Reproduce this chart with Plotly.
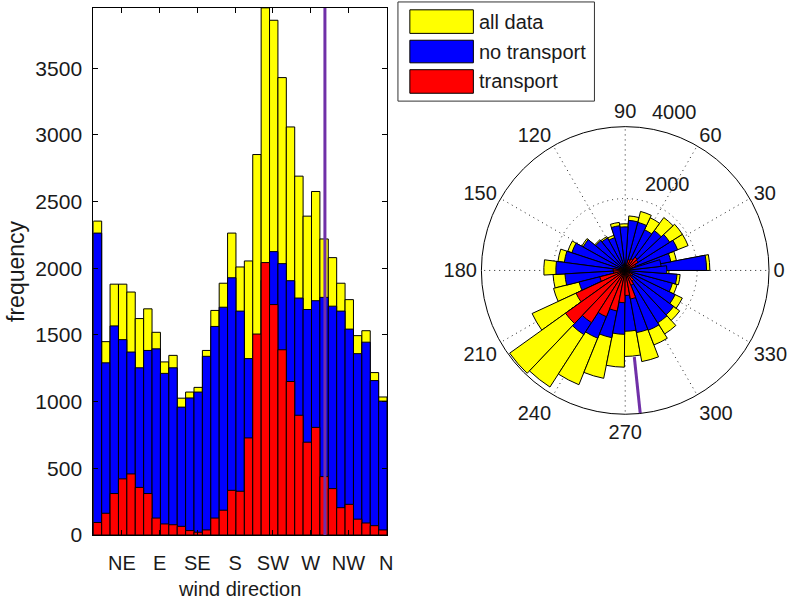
import math
import plotly.graph_objects as go

# ---------------- data ----------------
# histogram bin centres (degrees, 10-degree bins as drawn on the bar chart)
dir_centers = [5, 15, 25, 35, 45, 55, 65, 75, 85, 95, 105, 115, 125, 135, 145, 155, 165, 175,
               185, 195, 205, 215, 225, 235, 245, 255, 265, 275, 285, 295, 305, 315, 325, 335, 345]
all_data = [2354, 1450, 1881, 1881, 1822, 1623, 1696, 1520, 1298, 1347, 1026, 1072, 1107, 1384, 1684, 1888,
            2264, 2010, 2055, 2853, 3953, 3860, 3430, 3060, 2691, 2391, 2576, 2220, 2080, 1888, 1765, 1495,
            1532, 1218, 1035]
no_transport = [2264, 1291, 1568, 1465, 1372, 1254, 1384, 1396, 1212, 1254, 959, 1028, 1072, 1340, 1564, 1708,
                1929, 1679, 1323, 1346, 1910, 2125, 2035, 1907, 1777, 1691, 1757, 1782, 1716, 1679, 1544, 1360,
                1446, 1158, 1004]
transport = [94, 163, 311, 421, 458, 357, 311, 127, 83, 77, 65, 33, 21, 38, 127, 186,
             335, 328, 728, 1507, 2043, 1728, 1389, 1151, 898, 696, 807, 438, 348, 205, 230, 119,
             90, 70, 38]
tick_labels = ["NE", "E", "SE", "S", "SW", "W", "NW", "N"]
tick_positions = [34, 79, 124, 169, 214, 259, 304, 349]
marker_direction = 276
series_names = ["all data", "no transport", "transport"]
series_colors = ["#FFFF00", "#0000FF", "#FF0000"]
ymax = 3953
rmax = 4000
radial_ticks = [2000, 4000]
polar_ticks = [0, 30, 60, 90, 120, 150, 180, 210, 240, 270, 300, 330]

# styling / geometry
polar_bin_width = 10.78          # angular width of each rose wedge as drawn in the polar panel
polar_theta = [(i + 0.5) * polar_bin_width for i in range(len(all_data))]

W, H = 789, 600
FONT = "Liberation Sans, Arial, sans-serif"
TXT = "#1a1a1a"
PURPLE = "#7030A8"


def px(x):
    return x / W


def py(y):
    return 1 - y / H


fig = go.Figure()

series = [all_data, no_transport, transport]
for name, vals, col in zip(series_names, series, series_colors):
    fig.add_trace(go.Bar(x=dir_centers, y=vals, width=10, name=name,
                         marker=dict(color=col, line=dict(color="black", width=1)),
                         showlegend=False, xaxis="x", yaxis="y"))

fig.add_trace(go.Scatter(x=[marker_direction, marker_direction], y=[0, ymax], mode="lines",
                         line=dict(color=PURPLE, width=3), showlegend=False, hoverinfo="skip"))

# polar rose
for name, vals, col in zip(series_names, series, series_colors):
    fig.add_trace(go.Barpolar(r=vals, theta=polar_theta, width=polar_bin_width, name=name,
                              marker=dict(color=col, line=dict(color="black", width=1)),
                              showlegend=False, subplot="polar"))
fig.add_trace(go.Scatterpolar(r=[2420, rmax], theta=[marker_direction, marker_direction], mode="lines",
                              line=dict(color=PURPLE, width=3), showlegend=False, subplot="polar"))

cx, cy, R = 630, 275.5, 146.5
DOT = "1px,4px"

fig.update_layout(
    width=W, height=H,
    margin=dict(l=0, r=0, t=0, b=0),
    paper_bgcolor="white", plot_bgcolor="white",
    font=dict(family=FONT, size=20, color=TXT),
    barmode="overlay",
    xaxis=dict(domain=[px(94), px(390)], range=[0, 350], tickvals=tick_positions, ticktext=tick_labels,
               ticks="inside", ticklen=5, tickcolor="black", showline=True, linecolor="black",
               linewidth=1, mirror="allticks", showgrid=False, zeroline=False,
               ticklabelstandoff=10,
               title=dict(text="wind direction", standoff=8, font=dict(size=20))),
    yaxis=dict(domain=[py(545), py(8)], range=[0, ymax], tickvals=[0, 500, 1000, 1500, 2000, 2500, 3000, 3500],
               ticks="inside", ticklen=5, tickcolor="black", showline=True, linecolor="black",
               linewidth=1, mirror="allticks", showgrid=False, zeroline=False,
               ticklabelstandoff=6, tickfont=dict(size=21),
               title=dict(text="frequency", standoff=4, font=dict(size=23))),
    polar=dict(
        domain=dict(x=[px(cx - R), px(cx + R)], y=[py(cy + R), py(cy - R)]),
        bgcolor="white", barmode="overlay",
        radialaxis=dict(range=[0, rmax], tickvals=radial_ticks, showline=False, ticks="",
                        showticklabels=False,
                        gridcolor="#222", griddash=DOT, gridwidth=1, angle=84.7),
        angularaxis=dict(rotation=0, direction="counterclockwise", tickvals=polar_ticks,
                         ticks="", showline=True, linecolor="black", linewidth=1,
                         gridcolor="#222", griddash=DOT, gridwidth=1, tickfont=dict(size=20)),
    ),
)

# radial tick labels, placed beside the radial axis direction (as MATLAB's polar does)
lab_ang = math.radians(84.7)
for v in radial_ticks:
    rr = v / rmax * R
    lx = cx + rr * math.cos(lab_ang) + 36
    ly = cy - rr * math.sin(lab_ang) - 15.5
    fig.add_annotation(x=px(lx), y=py(ly), xref="paper", yref="paper", text=str(v), showarrow=False,
                       xanchor="center", yanchor="middle", font=dict(size=20, color=TXT))

# legend box (drawn as shapes + text)
shapes = [dict(type="rect", xref="paper", yref="paper", x0=px(401), x1=px(599), y0=py(103), y1=py(2),
               line=dict(color="#333", width=1), fillcolor="white")]
sw_rows = [(10, 34), (41, 64), (71, 95)]
for (t, b), col, name in zip(sw_rows, series_colors, series_names):
    shapes.append(dict(type="rect", xref="paper", yref="paper", x0=px(413), x1=px(477), y0=py(b), y1=py(t),
                       line=dict(color="black", width=1), fillcolor=col))
    fig.add_annotation(x=px(481), y=py((t + b) / 2), xref="paper", yref="paper", text=name,
                       showarrow=False, xanchor="left", yanchor="middle", font=dict(size=20, color=TXT))
fig.update_layout(shapes=shapes)

fig.write_html("out.html")
